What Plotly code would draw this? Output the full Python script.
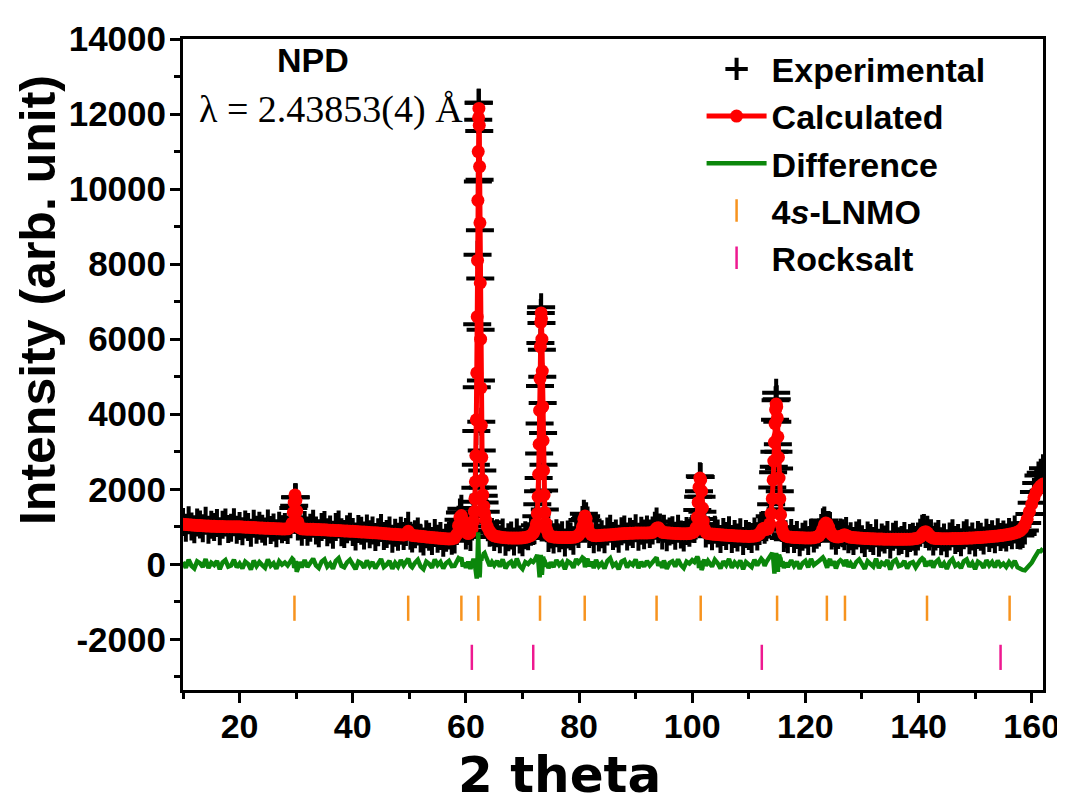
import plotly.graph_objects as go

# ---------------- data ----------------
two_theta = [
    10.0, 10.5, 11.0, 11.5, 12.0, 12.5, 13.0, 13.5, 14.0, 14.5,
    15.0, 15.5, 16.0, 16.5, 17.0, 17.5, 18.0, 18.5, 19.0, 19.5,
    20.0, 20.5, 21.0, 21.5, 22.0, 22.5, 23.0, 23.5, 24.0, 24.5,
    25.0, 25.5, 26.0, 26.5, 27.0, 27.5, 28.0,
    28.5, 29.0, 29.3, 29.5, 29.65, 29.8, 29.95, 30.1, 30.3, 30.6, 31.0,
    31.5, 32.0, 32.5, 33.0, 33.5, 34.0, 34.5, 35.0, 35.5, 36.0,
    36.5, 37.0, 37.5, 38.0, 38.5, 39.0, 39.5, 40.0, 40.5, 41.0,
    41.5, 42.0, 42.5, 43.0, 43.5, 44.0, 44.5, 45.0, 45.5, 46.0,
    46.5, 47.0, 47.5, 48.0, 48.5, 49.0,
    49.4, 49.8, 50.2,
    50.5, 51.0, 51.5, 52.0, 52.5, 53.0, 53.5, 54.0, 54.5, 55.0,
    55.5, 56.0, 56.5, 57.0, 57.5,
    58.0, 58.4, 58.7, 58.95, 59.2, 59.45, 59.7, 60.0, 60.4, 60.8, 61.1, 61.35,
    61.5, 61.6, 61.68, 61.76, 61.84, 61.92, 62.0, 62.06, 62.12, 62.18,
    62.24, 62.3, 62.36, 62.42, 62.48, 62.54, 62.6, 62.66, 62.72, 62.8,
    62.9, 63.0, 63.15, 63.3, 63.5, 63.8, 64.2, 64.6, 65.0,
    65.5, 66.0, 66.5, 67.0, 67.5, 68.0, 68.5, 69.0, 69.5, 70.0, 70.5, 71.0, 71.5,
    71.9, 72.2, 72.45, 72.62, 72.76, 72.86, 72.95, 73.03, 73.1, 73.17,
    73.24, 73.3, 73.36, 73.43, 73.5, 73.57, 73.64, 73.72, 73.82, 73.95,
    74.1, 74.3, 74.6, 75.0,
    75.5, 76.0, 76.5, 77.0, 77.5, 78.0, 78.5, 79.0, 79.5,
    79.9, 80.3, 80.6, 80.85, 81.05, 81.25, 81.5, 81.8, 82.2, 82.6,
    83.0, 83.5, 84.0, 84.5, 85.0, 85.5, 86.0, 86.5, 87.0, 87.5,
    88.0, 88.5, 89.0, 89.5, 90.0, 90.5, 91.0, 91.5, 92.0, 92.5,
    93.0, 93.4, 93.7, 94.0, 94.3, 94.7,
    95.0, 95.5, 96.0, 96.5, 97.0, 97.5, 98.0, 98.5, 99.0, 99.5, 100.0,
    100.4, 100.7, 100.9, 101.05, 101.2, 101.35, 101.5, 101.65, 101.8, 101.95,
    102.15, 102.4, 102.8,
    103.5, 104.0, 104.5, 105.0, 105.5, 106.0, 106.5, 107.0, 107.5, 108.0,
    108.5, 109.0, 109.5, 110.0, 110.5, 111.0, 111.5,
    111.9, 112.2, 112.5, 112.8, 113.1, 113.4, 113.7, 113.95, 114.15, 114.3,
    114.42, 114.53, 114.64, 114.74, 114.84, 114.94, 115.04, 115.14, 115.24, 115.35,
    115.48, 115.62, 115.78, 115.95, 116.2, 116.5, 116.9,
    117.5, 118.0, 118.5, 119.0, 119.5, 120.0, 120.5, 121.0, 121.5, 122.0,
    122.4, 122.8, 123.1, 123.35, 123.6, 123.85, 124.1, 124.35, 124.65, 125.0,
    125.4, 125.8, 126.2, 126.6, 126.9, 127.2, 127.6, 128.0,
    128.5, 129.0, 129.5, 130.0, 130.5, 131.0, 131.5, 132.0, 132.5, 133.0,
    133.5, 134.0, 134.5, 135.0, 135.5, 136.0, 136.5, 137.0, 137.5, 138.0,
    138.5, 139.0, 139.5,
    139.9, 140.3, 140.65, 140.95, 141.25, 141.55, 141.85, 142.2, 142.6, 143.0,
    143.5, 144.0, 144.5, 145.0, 145.5, 146.0, 146.5, 147.0, 147.5, 148.0,
    148.5, 149.0, 149.5, 150.0, 150.5, 151.0, 151.5, 152.0, 152.5, 153.0,
    153.5, 154.0, 154.5, 155.0, 155.5,
    156.0, 156.5, 157.0, 157.5, 158.0, 158.4, 158.8, 159.2, 159.6, 160.0,
    160.4, 160.8, 161.2, 161.6, 162.0,
]

y_calc = [
    1070, 1062, 1055, 1048, 1042, 1037, 1032, 1028, 1024, 1020,
    1016, 1013, 1010, 1008, 1006, 1004, 1002, 1001, 1000, 999,
    998, 994, 990, 986, 982, 978, 974, 970, 966, 962,
    958, 955, 952, 949, 946, 944, 942,
    945, 990, 1100, 1380, 1650, 1850, 1700, 1420, 1130, 980, 945,
    940, 937, 934, 931, 928, 925, 922, 918, 914, 910,
    906, 902, 898, 894, 890, 886, 882, 878, 874, 869,
    864, 859, 854, 849, 844, 839, 834, 828, 822, 816,
    810, 804, 798, 792, 786, 782,
    800, 880, 800,
    770, 762, 754, 746, 738, 730, 722, 714, 707, 700,
    693, 686, 680, 676, 680,
    700, 800, 1030, 1250, 1300, 1180, 980, 860, 820, 850, 950, 1150,
    1400, 1750, 2200, 2900, 3850, 5100, 6600, 8100, 9700, 11000,
    11900, 12150, 11700, 10600, 9100, 7500, 6000, 4700, 3700, 2850,
    2250, 1850, 1550, 1350, 1180, 1000, 880, 800, 760,
    740, 725, 715, 708, 703, 700, 698, 698, 700, 705, 715, 735, 770,
    830, 920, 1080, 1350, 1800, 2400, 3200, 4100, 4950, 5800,
    6450, 6700, 6550, 6000, 5150, 4200, 3300, 2500, 1850, 1380,
    1100, 920, 800, 745,
    728, 720, 716, 714, 713, 713, 715, 720, 735,
    770, 850, 1000, 1200, 1290, 1220, 1020, 860, 790, 765,
    762, 766, 772, 778, 784, 790, 796, 802, 808, 813,
    818, 822, 826, 829, 832, 834, 835, 836, 836, 838,
    850, 900, 960, 975, 920, 860,
    845, 838, 832, 828, 824, 820, 817, 815, 815, 820, 840,
    880, 980, 1250, 1650, 2050, 2300, 2250, 1950, 1500, 1150,
    950, 860, 820,
    805, 798, 792, 786, 780, 775, 770, 765, 760, 756,
    752, 748, 745, 744, 746, 752, 770,
    810, 880, 950, 960, 930, 950, 1080, 1350, 1750, 2250,
    2750, 3250, 3750, 4120, 4270, 4200, 3900, 3400, 2850, 2300,
    1750, 1320, 1040, 890, 800, 760, 735,
    722, 716, 712, 709, 706, 704, 703, 704, 710, 725,
    760, 830, 940, 1050, 1100, 1080, 990, 880, 800, 755,
    735, 730, 740, 770, 790, 770, 740, 720,
    712, 706, 700, 695, 690, 686, 682, 679, 676, 674,
    672, 670, 669, 668, 667, 666, 666, 666, 667, 668,
    670, 674, 685,
    700, 730, 790, 850, 870, 840, 780, 730, 700, 690,
    686, 684, 683, 683, 684, 685, 687, 689, 691, 694,
    697, 700, 704, 708, 712, 717, 722, 728, 734, 741,
    748, 756, 765, 775, 787,
    800, 815, 835, 860, 900, 960, 1060, 1200, 1400, 1600,
    1780, 1920, 2020, 2090, 2140,
]

y_diff = [
    60, -90, 120, -40, -110, 80, 30, -70, 140, -100,
    40, -20, 90, -130, 50, 110, -60, -30, 120, -80,
    20, -110, 70, 10, -140, 100, -50, 60, -20, -90,
    130, -40, 30, -120, 80, -10, 50,
    -30, 80, 150, 120, -90, -60, 90, -200, -120, 60, -80,
    110, -70, 40, 150, -30, -100, 70, 130, -60, 20,
    -120, 90, 160, -40, -80, 50, 120, -20, -130, 70,
    30, -90, 100, -50, 60, -110, 20, 140, -70, -10,
    90, -120, 40, -60, 110, -30,
    60, 150, -40,
    -80, 40, 120, -60, -130, 70, 10, -90, 130, -20,
    60, -110, 30, 90, -50,
    -40, 90, 160, 130, 180, -60, 40, -90, 70, -120, 60, 140,
    100, -80, -160, -250, -300, -380, -200, 150, 500, 850,
    400, 150, -150, -350, -200, 120, 250, 200, 100, 180,
    250, 200, 280, 300, 220, 120, -40, 60, -30,
    90, -60, 130, -110, 20, 70, -90, 150, -40, -120, 60, 10, 100,
    60, 120, 200, 250, 150, -100, -250, -350, -200, 100,
    250, 150, -120, -280, -150, 100, 200, 150, 120, 80,
    -60, 40, -100, 50,
    -70, 110, -20, 60, -130, 80, 30, -90, 140,
    40, 110, 180, 150, -80, 60, 150, -50, 70, -100,
    120, -50, 30, -110, 90, 160, -40, 20, -130, 70,
    110, -80, 40, -20, 130, -100, 60, -60, 90, -30,
    50, 130, 180, -40, 60, -90,
    100, -120, 40, 80, -60, 130, -20, -100, 70, 20, 110,
    60, 120, 200, 150, -100, 50, 80, -150, -100, 60,
    120, -40, 90,
    -60, 120, 30, -110, 80, -20, 140, -90, 50, -40,
    100, -130, 60, 10, -70, 120, -30,
    80, 150, 100, -40, 60, 120, 200, 250, 300, 200,
    -150, -250, 100, 250, 300, 200, -100, -200, 150, 250,
    200, 150, -60, 80, -100, 40, -70,
    110, -40, 70, -120, 30, 90, -80, 140, -20, 60,
    90, 140, 180, 120, -50, -90, 60, 140, -30, 80,
    -110, 50, 110, 60, -40, 120, -70, 30,
    -90, 60, 130, -30, -120, 80, 20, -60, 150, -100,
    40, -10, 110, -140, 70, 120, -50, -20, 90, -110,
    30, 60, -80,
    40, 110, 160, 120, -60, 80, -40, 100, -90, 50,
    120, -70, 30, -120, 60, 140, -40, 10, -100, 80,
    130, -60, 40, -130, 70, 20, -90, 110, -30, 60,
    -80, 100, -40, 20, -70,
    60, -40, 90, -80, -130, -150, -160, -100, -60, 40,
    150, 250, 350, 350, 420,
]

assert len(two_theta) == len(y_calc) == len(y_diff), (len(two_theta), len(y_calc), len(y_diff))

# observed = calculated + difference
y_obs = [c + d for c, d in zip(y_calc, y_diff)]

# Bragg reflection positions
lnmo_pos = [29.7, 49.8, 59.2, 62.2, 73.1, 81.0, 93.7, 101.5, 115.0, 123.8, 127.0, 141.5, 156.1]
rocksalt_pos = [61.05, 71.9, 112.3, 154.5]
lnmo_level = -1170
rocksalt_level = -2480

x_ticks = [20, 40, 60, 80, 100, 120, 140, 160]
x_ticktext = ["20", "40", "60", "80", "100", "120", "140", "160"]
y_ticks = [-2000, 0, 2000, 4000, 6000, 8000, 10000, 12000, 14000]
y_ticktext = ["-2000", "0", "2000", "4000", "6000", "8000", "10000", "12000", "14000"]

# ---------------- figure ----------------
SANS = "Liberation Sans, Arial, sans-serif"
WIDE = "DejaVu Sans, Liberation Sans, sans-serif"
SERIF = "Liberation Serif, Times New Roman, serif"

fig = go.Figure()
fig.add_trace(go.Scatter(
    x=two_theta, y=y_obs, mode="markers", name="Experimental",
    marker=dict(symbol="cross-thin", size=20, color="black",
                line=dict(color="black", width=4)),
))
fig.add_trace(go.Scatter(
    x=two_theta, y=y_calc, mode="lines+markers", name="Calculated",
    line=dict(color="#FF0000", width=5),
    marker=dict(size=13, color="#FF0000"),
))
fig.add_trace(go.Scatter(
    x=two_theta, y=y_diff, mode="lines", name="Difference",
    line=dict(color="#0B870B", width=4.5),
))
fig.add_trace(go.Scatter(
    x=lnmo_pos, y=[lnmo_level] * len(lnmo_pos), mode="markers",
    name="4<i>s</i>-LNMO",
    marker=dict(symbol="line-ns", size=18, color="#F7931E",
                line=dict(color="#F7931E", width=2.5)),
))
fig.add_trace(go.Scatter(
    x=rocksalt_pos, y=[rocksalt_level] * len(rocksalt_pos), mode="markers",
    name="Rocksalt",
    marker=dict(symbol="line-ns", size=18, color="#EE1990",
                line=dict(color="#EE1990", width=2.5)),
))

axis_common = dict(
    showline=True, linewidth=3, linecolor="black", mirror=True,
    showgrid=False, zeroline=False, automargin=False,
    ticks="outside", ticklen=10, tickwidth=2.5, tickcolor="black",
)

# the page body has an 8 px default margin; the figure is offset by it
fig.update_layout(
    width=1057, height=797,
    margin=dict(l=175, r=22, t=31, b=115),
    plot_bgcolor="white", paper_bgcolor="white",
    font=dict(family=SANS, color="black"),
    showlegend=True,
    legend=dict(
        x=0.603, y=0.998, xanchor="left", yanchor="top",
        bgcolor="rgba(0,0,0,0)", borderwidth=0, itemwidth=60,
        font=dict(family=SANS, size=34, color="black", weight="bold"),
    ),
    xaxis=dict(
        range=[10, 162], tickmode="array", tickvals=x_ticks, ticktext=x_ticktext,
        ticklabelstandoff=-6, ticklabeloverflow="allow",
        tickfont=dict(family=SANS, size=34, color="black", weight="bold"),
        minor=dict(dtick=10, tick0=0, ticks="outside", ticklen=6,
                   tickwidth=2.5, tickcolor="black"),
        **axis_common,
    ),
    yaxis=dict(
        range=[-3350, 14000], tickmode="array", tickvals=y_ticks, ticktext=y_ticktext,
        ticklabelstandoff=-3,
        tickfont=dict(family=SANS, size=35, color="black", weight="bold"),
        minor=dict(dtick=1000, tick0=0, ticks="outside", ticklen=6,
                   tickwidth=2.5, tickcolor="black"),
        **axis_common,
    ),
    annotations=[
        dict(text="NPD", xref="paper", yref="paper", x=0.151, y=0.968,
             xanchor="center", yanchor="middle", showarrow=False,
             font=dict(family=SANS, size=34, color="black", weight="bold")),
        dict(text="λ = 2.43853(4) Å", xref="paper", yref="paper", x=0.172, y=0.891,
             xanchor="center", yanchor="middle", showarrow=False,
             font=dict(family=SERIF, size=38, color="black")),
        dict(text="Intensity (arb. unit)", xref="paper", yref="paper",
             x=-0.1686, y=0.599, xanchor="center", yanchor="middle",
             textangle=-90, showarrow=False,
             font=dict(family=SANS, size=50, color="black", weight="bold")),
        dict(text="2 theta", xref="paper", yref="paper",
             x=0.438, y=-0.1306, xanchor="center", yanchor="middle",
             showarrow=False,
             font=dict(family=WIDE, size=50, color="black", weight="bold")),
    ],
)

fig.write_html("out.html")
